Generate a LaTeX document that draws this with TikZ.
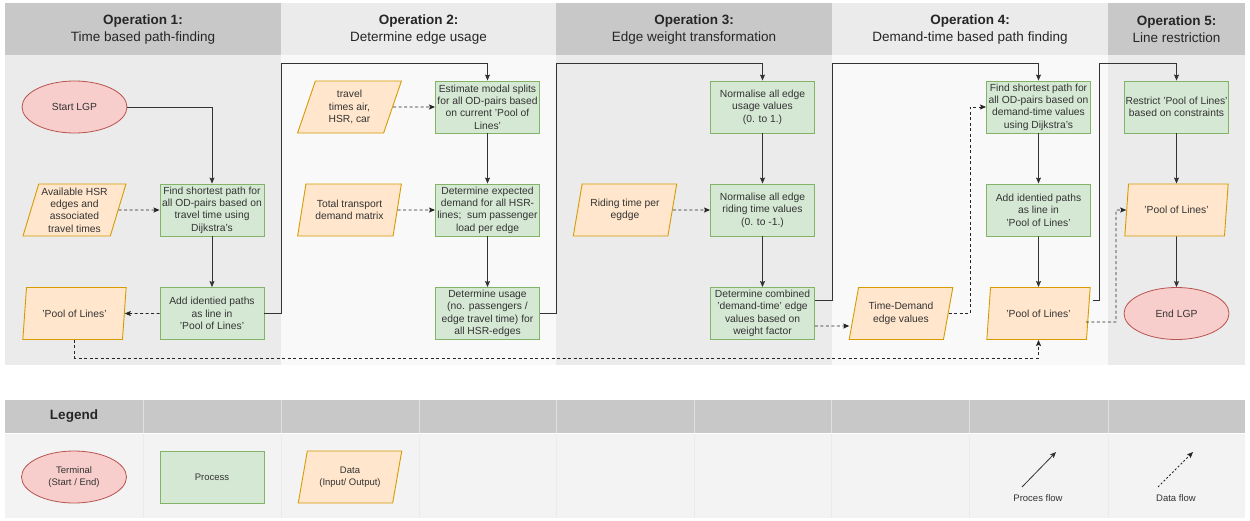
\documentclass[tikz,border=0pt]{standalone}
\usepackage{fontspec}
\setmainfont{Liberation Sans}
\usetikzlibrary{shapes.geometric,arrows.meta,calc}
\definecolor{hdark}{HTML}{C8C8C8}
\definecolor{hlight}{HTML}{EBEBEB}
\definecolor{bdark}{HTML}{EBEBEB}
\definecolor{blight}{HTML}{F9F9F9}
\definecolor{lgbody}{HTML}{F3F3F3}
\definecolor{termfill}{HTML}{F8CECC}
\definecolor{termdraw}{HTML}{B85450}
\definecolor{procfill}{HTML}{D5E8D4}
\definecolor{procdraw}{HTML}{82B366}
\definecolor{datafill}{HTML}{FFE6CC}
\definecolor{datadraw}{HTML}{D79B00}
\definecolor{txt}{HTML}{333333}
\definecolor{flow}{HTML}{333333}
\tikzset{
  boxfont/.style={font=\fontsize{10.3}{12.4}\selectfont, text=txt},
  term/.style={ellipse, draw=termdraw, fill=termfill, line width=0.8pt, minimum width=105, minimum height=52, inner sep=0pt, boxfont, align=center},
  proc/.style={rectangle, draw=procdraw, fill=procfill, line width=0.9pt, minimum width=104, minimum height=52, inner sep=0pt, boxfont, align=center},
  datab/.style={trapezium, trapezium left angle=72, trapezium right angle=108, trapezium stretches=true, draw=datadraw, fill=datafill, line width=0.9pt, minimum width=104, minimum height=52, inner sep=0pt, boxfont, align=center},
  pflow/.style={draw=flow, line width=0.8pt, -{Stealth[length=6pt,width=5pt,inset=1pt]}},
  dflow/.style={pflow, draw=black!85, line width=0.9pt, dash pattern=on 3pt off 2.5pt},
  hdr/.style={font=\fontsize{13.5}{17}\selectfont, text=black!85, align=center},
  small/.style={font=\fontsize{9.5}{11.5}\selectfont, text=txt, align=center},
}
\begin{document}
\begin{tikzpicture}[x=1pt,y=-1pt]
\useasboundingbox (0,0) rectangle (1250,520);
% column backgrounds
\fill[hdark]  (5,3) rectangle (281,55);    \fill[bdark]  (5,55) rectangle (281,365);
\fill[hlight] (281,3) rectangle (556,55);  \fill[blight] (281,55) rectangle (556,365);
\fill[hdark]  (556,3) rectangle (832,55);  \fill[bdark]  (556,55) rectangle (832,365);
\fill[hlight] (832,3) rectangle (1108,55); \fill[blight] (832,55) rectangle (1108,365);
\fill[hdark]  (1108,3) rectangle (1245,55);\fill[bdark]  (1108,55) rectangle (1245,365);
% headers
\node[hdr] (h1) at (143,29.5) {\textbf{Operation 1:}\\Time based path-finding};
\node[hdr] (h2) at (418.5,29.5) {\textbf{Operation 2:}\\Determine edge usage};
\node[hdr] (h3) at (694,29.5) {\textbf{Operation 3:}\\Edge weight transformation};
\node[hdr] (h4) at (970,29.5) {\textbf{Operation 4:}\\Demand-time based path finding};
\node[hdr] (h5) at (1176.5,29.5) {\textbf{Operation 5:}\\Line restriction};
% Operation 1
\node[term]  (start) at (74.5,107) {Start LGP};
\node[datab] (avail) at (74.5,210) {Available HSR\\edges and\\associated\\travel times};
\node[datab] (pool1) at (74.5,313.5) {'Pool of Lines'};
\node[proc]  (find1) at (212,210) {Find shortest path for\\all OD-pairs based on\\travel time using\\Dijkstra's};
\node[proc]  (add1)  at (212,313.5) {Add identied paths\\as line in\\'Pool of Lines'};
% Operation 2
\node[datab] (travel) at (349.5,107) {travel\\times air,\\HSR, car};
\node[datab] (total)  at (349.5,210) {Total transport\\demand matrix};
\node[proc]  (est)  at (487.5,107) {Estimate modal splits\\for all OD-pairs based\\on current 'Pool of\\Lines'};
\node[proc]  (dexp) at (487.5,210) {Determine expected\\demand for all HSR-\\lines;\ \ sum passenger\\load per edge};
\node[proc]  (duse) at (487.5,313.5) {Determine usage\\(no. passengers /\\edge travel time) for\\all HSR-edges};
% Operation 3
\node[datab] (riding) at (625,210) {Riding time per\\egdge};
\node[proc]  (norm1) at (762.5,107) {Normalise all edge\\usage values\\(0. to 1.)};
\node[proc]  (norm2) at (762.5,210) {Normalise all edge\\riding time values\\(0. to -1.)};
\node[proc]  (comb)  at (762.5,313.5) {Determine combined\\'demand-time' edge\\values based on\\weight factor};
% Operation 4
\node[datab] (td)    at (901,313.5) {Time-Demand\\edge values};
\node[proc]  (find4) at (1038.5,107) {Find shortest path for\\all OD-pairs based on\\demand-time values\\using Dijkstra's};
\node[proc]  (add4)  at (1038.5,210) {Add identied paths\\as line in\\'Pool of Lines'};
\node[datab] (pool4) at (1038.5,313.5) {'Pool of Lines'};
% Operation 5
\node[proc]  (restr) at (1176.5,107) {Restrict 'Pool of Lines'\\based on constraints};
\node[datab] (pool5) at (1176.5,210) {'Pool of Lines'};
\node[term]  (endn)  at (1176.5,313.5) {End LGP};
% process flows
\draw[pflow] (start.east) -| (find1.north);
\draw[pflow] (find1) -- (add1);
\draw[pflow] (add1.east) -| (281,63) -| (est.north);
\draw[pflow] (est) -- (dexp);
\draw[pflow] (dexp) -- (duse);
\draw[pflow] (duse.east) -| (556,63) -| (norm1.north);
\draw[pflow] (norm1) -- (norm2);
\draw[pflow] (norm2) -- (comb);
\draw[pflow] ($(comb.east)+(0,-13.5)$) -| (832,63) -| (find4.north);
\draw[pflow] (find4) -- (add4);
\draw[pflow] (add4) -- (pool4);
\draw[pflow] ($(pool4.east)+(4.4,-13.5)$) -| (1099,63) -| (restr.north);
\draw[pflow] (restr) -- (pool5);
\draw[pflow] (pool5) -- (endn);
% data flows
\draw[dflow] (avail.east) -- (find1.west);
\draw[dflow] (add1.west) -- (pool1.east);
\draw[dflow] (pool1.south) |- ($(pool4.south)+(0,18)$) -- (pool4.south);
\draw[dflow] (travel.east) -- (est.west);
\draw[dflow] (total.east) -- (dexp.west);
\draw[dflow] (riding.east) -- (norm2.west);
\draw[dflow] ($(comb.east)+(0,12.5)$) -- ($(td.west)+(-4.1,12.5)$);
\draw[dflow] (td.east) -| (970,107) -- (find4.west);
\draw[dflow] ($(pool4.east)+(-2.8,8.5)$) -| (1116,210) -- (pool5.west);
% legend
\foreach \a/\b in {5/143,143/281,281/419,419/556,556/694,694/831,831/969,969/1108,1108/1245}{
  \fill[hdark] (\a,400) rectangle (\b,433);
  \fill[lgbody] (\a,434) rectangle (\b,518);
}
\foreach \a in {143,281,419,556,694,831,969,1108}{
  \draw[color=white!88!black, line width=0.7pt] (\a,400) -- (\a,433);
  \draw[color=white!92!black, line width=0.7pt] (\a,434) -- (\a,518);
}
\node[font=\bfseries\fontsize{13.5}{16}\selectfont, text=black!85] (lg) at (74,416.5) {Legend};
\node[term, small] (lterm) at (74,477) {Terminal\\(Start / End)};
\node[proc, small] (lproc) at (212,477) {Process};
\node[datab, small] (ldata) at (350,477) {Data\\(Input/ Output)};
\coordinate (pfa) at (1022,487);
\coordinate (pfb) at (1056,452);
\draw[pflow] (pfa) -- (pfb);
\node[small] (pfl) at (1038,498.5) {Proces flow};
\coordinate (dfa) at (1158,487);
\coordinate (dfb) at (1193,452);
\draw[dflow, dash pattern=on 2pt off 2pt] (dfa) -- (dfb);
\node[small] (dfl) at (1176,498.5) {Data flow};
\end{tikzpicture}
\end{document}
